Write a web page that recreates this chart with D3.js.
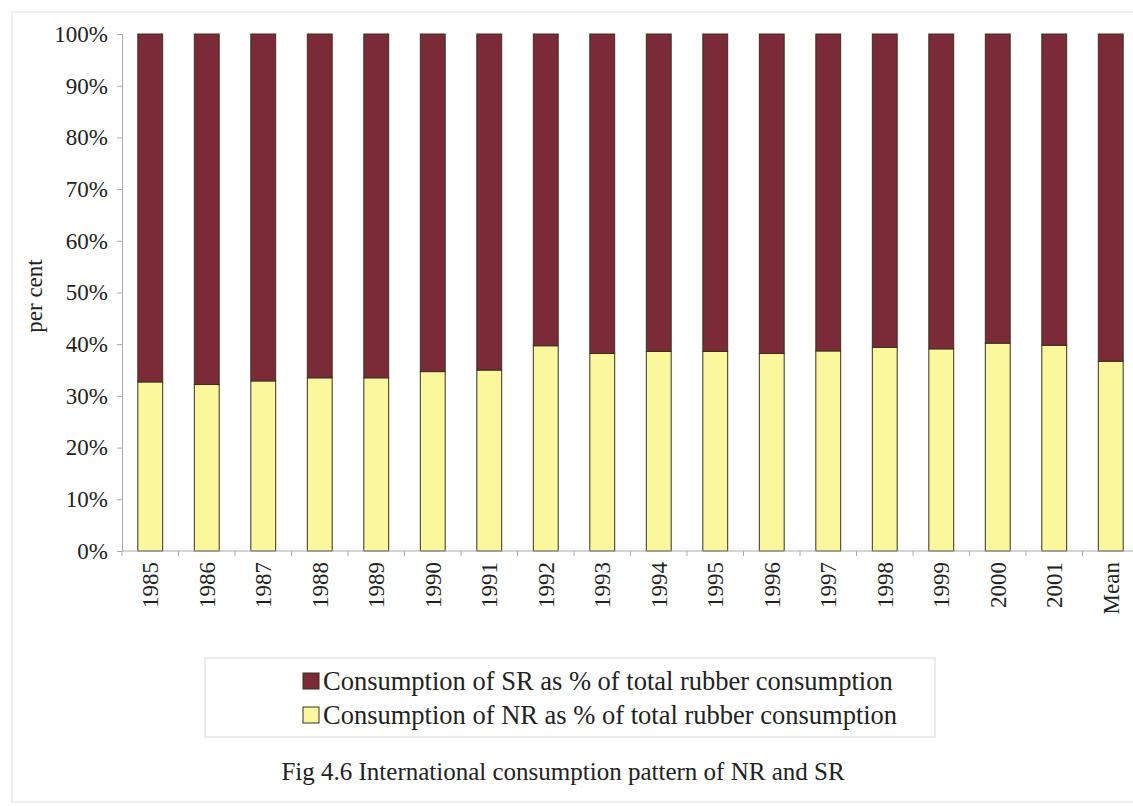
<!DOCTYPE html>
<html>
<head>
<meta charset="utf-8">
<script src="https://cdn.jsdelivr.net/npm/d3@7"></script>
<style>
  body { margin: 0; background: #fff; }
  text { font-family: "Liberation Serif", "Times New Roman", serif; fill: #222; }
</style>
</head>
<body>
<div id="chart"></div>
<script>
var w = 1133;
var h = 806;

// categories and values (NR share of total rubber consumption, %)
var years = ["1985", "1986", "1987", "1988", "1989", "1990", "1991", "1992", "1993",
             "1994", "1995", "1996", "1997", "1998", "1999", "2000", "2001", "Mean"];
var nrShare = [32.7, 32.2, 32.9, 33.5, 33.5, 34.7, 35.0, 39.7, 38.2,
               38.6, 38.6, 38.2, 38.7, 39.4, 39.1, 40.2, 39.8, 36.7];
var srShare = nrShare.map(function(v){ return 100 - v; });
var yTicks = [0, 10, 20, 30, 40, 50, 60, 70, 80, 90, 100];
var seriesNames = ["Consumption of SR as % of total rubber consumption",
                   "Consumption of NR as % of total rubber consumption"];
var colors = { sr: "#7b2a37", nr: "#fbf79c" };

var plotLeft = 122, plotRight = 1139, plotTop = 34, plotBottom = 551;

var svg = d3.select("#chart").append("svg")
    .attr("width", w)
    .attr("height", h);

// faint frame of the scanned chart
svg.append("rect")
    .attr("x", 12).attr("y", 12)
    .attr("width", 1135).attr("height", 790)
    .attr("fill", "none")
    .attr("stroke", "#e2e2e2");

var xScale = d3.scaleBand()
    .domain(years)
    .range([plotLeft, plotRight])
    .paddingInner(0.56)
    .paddingOuter(0.28);

var yScale = d3.scaleLinear()
    .domain([0, 100])
    .range([plotBottom, plotTop]);

var data = years.map(function(y, i){
    return { year: y, nr: nrShare[i], sr: srShare[i] };
});
var stack = d3.stack().keys(["nr", "sr"])(data);

svg.append("g").selectAll("g")
    .data(stack)
    .enter().append("g")
    .attr("fill", function(d){ return colors[d.key]; })
    .selectAll("rect")
    .data(function(d){ return d; })
    .enter().append("rect")
    .attr("x", function(d){ return xScale(d.data.year); })
    .attr("y", function(d){ return yScale(d[1]); })
    .attr("width", xScale.bandwidth())
    .attr("height", function(d){ return yScale(d[0]) - yScale(d[1]); })
    .attr("stroke", "#3a3020")
    .attr("stroke-width", 1);

// y axis
var yAxis = d3.axisLeft(yScale)
    .tickValues(yTicks)
    .tickSize(5)
    .tickPadding(9)
    .tickFormat(function(d){ return d + "%"; });

var gy = svg.append("g")
    .attr("transform", "translate(" + plotLeft + ",0)")
    .call(yAxis);
gy.select(".domain").attr("stroke", "#aaa");
gy.selectAll(".tick line").attr("stroke", "#aaa");
gy.selectAll(".tick text")
    .style("font-size", "23px")
    .style("font-family", "Liberation Serif, serif")
    .attr("fill", "#333");

// x axis: ticks between categories
var gx = svg.append("g")
    .attr("transform", "translate(0," + plotBottom + ")");
gx.append("line")
    .attr("x1", plotLeft).attr("x2", plotRight)
    .attr("stroke", "#aaa");
gx.selectAll(".sep")
    .data(years)
    .enter().append("line")
    .attr("class", "sep")
    .attr("x1", function(d){ return xScale(d) - xScale.step() * xScale.paddingInner() / 2; })
    .attr("x2", function(d){ return xScale(d) - xScale.step() * xScale.paddingInner() / 2; })
    .attr("y1", 0).attr("y2", 5)
    .attr("stroke", "#aaa");
gx.selectAll(".lbl")
    .data(years)
    .enter().append("text")
    .attr("class", "lbl")
    .attr("transform", function(d){
        return "translate(" + (xScale(d) + xScale.bandwidth() / 2 + 8) + ",11) rotate(-90)";
    })
    .attr("text-anchor", "end")
    .style("font-size", "23px")
    .attr("fill", "#333")
    .text(function(d){ return d; });

// y axis title
svg.append("text")
    .attr("transform", "translate(42,296) rotate(-90)")
    .attr("text-anchor", "middle")
    .style("font-size", "23px")
    .text("per cent");

// legend
var legend = svg.append("g");
legend.append("rect")
    .attr("x", 205).attr("y", 658)
    .attr("width", 730).attr("height", 79)
    .attr("fill", "none")
    .attr("stroke", "#d8d8d8");

var legendItems = [
    { name: seriesNames[0], color: colors.sr },
    { name: seriesNames[1], color: colors.nr }
];
var li = legend.selectAll(".item")
    .data(legendItems)
    .enter().append("g")
    .attr("class", "item")
    .attr("transform", function(d, i){ return "translate(303," + (673 + i * 34) + ")"; });
li.append("rect")
    .attr("width", 16).attr("height", 16)
    .attr("fill", function(d){ return d.color; })
    .attr("stroke", "#3a3020");
li.append("text")
    .attr("x", 20).attr("y", 17)
    .style("font-size", "26.5px")
    .text(function(d){ return d.name; });

// caption
svg.append("text")
    .attr("x", 563).attr("y", 780)
    .attr("text-anchor", "middle")
    .style("font-size", "25px")
    .text("Fig 4.6 International consumption pattern of NR and SR");
</script>
</body>
</html>
